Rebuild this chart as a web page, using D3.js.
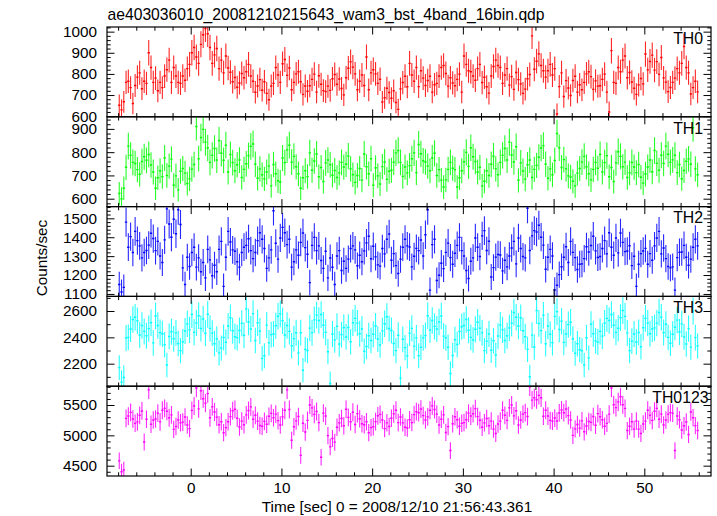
<!DOCTYPE html>
<html><head><meta charset="utf-8">
<script src="https://cdn.jsdelivr.net/npm/d3@7"></script>
<style>
body{margin:0;background:#fff}
svg{display:block}
text{font-family:"Liberation Sans",Arial,Helvetica,sans-serif;fill:#000}
</style>
</head><body>
<svg id="c" width="717" height="516"></svg>
<script>
// ---------------- data ----------------
const titleText = "ae403036010_20081210215643_wam3_bst_4band_16bin.qdp";
const xLabelText = "Time [sec] 0 = 2008/12/10 21:56:43.361";
const yLabelText = "Counts/sec";
const bandNames = ["TH0", "TH1", "TH2", "TH3", "TH0123"];
const binWidth = 0.25;        // seconds per bin
const firstBinStart = -8.0;   // left edge of first bin (s)
const xTickLabels = [0, 10, 20, 30, 40, 50];

const TH0 = [
652,630,668,760, 765,735,660,745, 785,805,730,765, 755,900,830,760,
780,720,760,735, 790,820,865,760, 830,790,760,755, 790,770,825,845,
900,925,880,850, 940,985,1015,990, 925,850,890,920, 825,865,805,885,
828,808,763,783, 737,757,802,782, 810,845,790,765, 713,743,773,723,
763,708,678,743, 755,830,795,760, 848,868,793,828, 725,760,800,810,
763,703,743,718, 744,774,799,714, 791,751,721,716, 742,722,777,797,
751,776,731,701, 782,827,857,832, 800,725,765,795, 745,880,725,805,
820,800,755,775, 667,687,732,712, 685,720,665,632, 729,759,789,739,
850,795,765,830, 740,815,780,745, 769,789,714,749, 755,790,830,840,
802,742,782,757, 744,774,799,714, 885,845,815,810, 790,770,825,845,
759,784,739,709, 790,835,865,840, 830,755,795,825, 747,787,727,807,
773,753,708,728, 777,797,980,822, 860,895,840,815, 785,815,845,795,
825,610,740,805, 693,768,733,698, 769,789,714,749, 725,760,800,810,
787,727,767,742, 744,774,799,714, 620,910,760,755, 830,810,865,885,
782,807,762,732, 703,748,778,753, 894,819,859,889, 818,858,798,878,
781,761,716,736, 760,780,825,805, 850,930,830,805, 705,735,765,715
];
const TH1 = [
622,600,645,735, 826,786,756,751, 725,705,760,780, 765,790,745,715,
645,690,720,695, 775,700,740,770, 658,698,638,718, 730,710,665,685,
727,747,910,772, 863,898,843,818, 756,786,816,766, 850,795,765,830,
715,790,755,720, 746,766,691,726, 750,785,825,835, 748,688,728,703,
685,715,740,655, 747,707,677,672, 775,755,810,830, 757,782,737,707,
645,690,720,695, 797,722,762,792, 694,734,674,754, 766,746,701,721,
691,711,756,736, 748,783,728,703, 670,700,730,680, 792,737,707,772,
658,733,698,663, 738,758,683,718, 722,757,797,807, 756,696,736,711,
742,772,797,712, 833,793,763,758, 740,720,775,795, 700,725,680,650,
681,726,756,731, 725,650,690,720, 759,799,739,819, 780,760,715,735,
655,675,720,700, 748,783,728,703, 756,786,816,766, 843,788,758,823,
679,754,719,684, 746,766,691,726, 743,778,818,828, 748,688,728,703,
764,880,819,734, 768,728,698,693, 675,655,710,730, 757,782,737,707,
681,726,756,731, 790,715,755,785, 694,734,674,754, 802,782,737,757,
691,711,756,736, 712,747,692,667, 706,736,766,716, 807,752,722,787,
751,826,791,756, 767,787,712,747, 686,721,761,771, 748,905,728,703
];
const TH2 = [
1150,1110,1135,1480, 1347,1403,1319,1431, 1382,1354,1291,1319, 1330,1358,1421,1393,
1329,1378,1301,1266, 1386,1550,1470,1400, 1495,1418,1545,1467, 1238,1150,1294,1245,
1319,1347,1242,1291, 1217,1266,1185,1336, 1280,1196,1252,1217, 1336,1378,1140,1294,
1431,1375,1333,1326, 1270,1242,1319,1347, 1357,1392,1329,1287, 1319,1382,1424,1389,
1340,1235,1291,1333, 1540,1368,1284,1396, 1452,1424,1361,1389, 1242,1270,1333,1305,
1373,1422,1345,1310, 1160,1357,1399,1329, 1354,1277,1235,1326, 1185,1290,1241,1150,
1301,1329,1224,1273, 1235,1284,1340,1354, 1333,1249,1305,1270, 1328,1370,1405,1286,
1352,1296,1254,1247, 1340,1312,1389,1417, 1278,1313,1250,1208, 1284,1347,1389,1354,
1348,1243,1299,1341, 1329,1385,1301,1413, 1545,1120,1361,1389, 1171,1199,1262,1234,
1320,1369,1292,1257, 1315,1357,1399,1329, 1301,1224,1182,1273, 1291,1396,1347,1298,
1407,1435,1330,1379, 1190,1239,1295,1309, 1306,1222,1278,1243, 1301,1343,1378,1259,
1396,1340,1298,1291, 1553,1330,1407,1435, 1428,1463,1400,1358, 1231,1294,1336,1301,
1121,1146,1202,1244, 1294,1350,1266,1378, 1320,1292,1229,1257, 1259,1287,1350,1322,
1356,1405,1328,1293, 1298,1340,1382,1312, 1424,1347,1305,1396, 1317,1422,1373,1324,
1327,1355,1250,1299, 1140,1257,1313,1327, 1341,1257,1313,1278, 1354,1396,1431,1312,
1343,1287,1245,1238, 1243,1120,1292,1320, 1322,1357,1294,1252, 1284,1347,1389,1354
];
const TH3 = [
2170,2060,2095,2395, 2400,2463,2535,2553, 2526,2418,2490,2445, 2412,2466,2511,2358,
2562,2490,2436,2427, 2344,2190,2407,2443, 2389,2434,2353,2299, 2367,2448,2502,2457,
2573,2438,2510,2564, 2467,2539,2431,2575, 2468,2432,2351,2387, 2282,2318,2399,2363,
2486,2549,2450,2405, 2398,2452,2506,2416, 2616,2517,2463,2580, 2376,2511,2448,2240,
2260,2493,2358,2421, 2425,2488,2560,2578, 2526,2418,2490,2445, 2336,2390,2435,2282,
2435,2150,2309,2300, 2470,2434,2533,2569, 2528,2573,2492,2438, 2291,2050,2426,2381,
2484,2349,2421,2475, 2403,2475,2367,2511, 2544,2508,2427,2463, 2295,2331,2412,2376,
2423,2486,2387,2342, 2449,2503,2557,2467, 2452,2353,2299,2416, 2090,2385,2322,2259,
2432,2468,2333,2396, 2261,2324,2396,2414, 2564,2456,2528,2483, 2463,2517,2562,2409,
2397,2325,2126,2262, 2382,2346,2445,2481, 2490,2535,2454,2400, 2380,2461,2515,2470,
2434,2299,2371,2425, 2302,2374,2266,2410, 2493,2457,2376,2412, 2472,2508,2589,2553,
2486,2549,2450,2405, 2309,2101,2417,2327, 2604,2505,2451,2568, 2351,2486,2423,2360,
2559,2595,2460,2523, 2362,2425,2497,2515, 2387,2279,2351,2306, 2298,2190,2397,2244,
2499,2427,2373,2364, 2445,2409,2508,2544, 2528,2573,2492,2438, 2469,2550,2604,2559,
2434,2299,2371,2425, 2365,2437,2329,2473, 2544,2508,2427,2463, 2472,2508,2589,2553,
2436,2499,2400,2355, 2423,2477,2531,2441, 2502,2403,2349,2466, 2326,2600,2398,2335
];
const TH0123 = [
4580,4400,4430,5280, 5318,5378,5270,5198, 5222,5330,5402,4890, 5266,5750,5182,5254,
5270,5366,5222,5414, 5445,5397,5289,5337, 5098,5146,5254,5206, 5218,5302,5170,5110,
5412,5484,5780,5436, 5735,5603,5531,5687, 5289,5469,5385,5301, 5175,5223,5043,5127,
5225,5309,5405,5429, 5282,5138,5234,5174, 5337,5409,5469,5265, 5330,5234,5162,5150,
5230,5182,5314,5362, 5290,5350,5242,5170, 5305,5413,5750,5425, 4920,5142,5238,5310,
4670,5199,5055,5247, 5501,5453,5345,5393, 5210,4640,5366,5318, 4996,4810,4948,4888,
5134,5206,5278,5158, 5429,5297,5225,5381, 5178,5358,5274,5190, 5175,5223,5043,5127,
5142,5226,5322,5346, 5254,5110,5206,5146, 5282,5354,5414,5210, 5302,5206,5134,5122,
5258,5210,5342,5390, 5373,5433,5325,5253, 5305,5413,5485,5425, 5350,5170,5266,5338,
5047,5143,4750,5191, 5306,5258,5150,5198, 5210,5258,5366,5318, 5357,5441,5309,5249,
5134,5206,5278,5158, 5235,5103,5031,5187, 5234,5414,5330,5246, 5453,5501,5321,5405,
5170,5254,5350,5374, 5310,5800,5580,5620, 5587,5659,5619,5315, 5414,5318,5246,5234,
5285,5237,5369,5417, 5373,5433,5325,5253, 4999,5107,5179,5119, 5239,5059,5155,5227,
5214,5310,5166,5358, 5306,5258,5150,5198, 5349,5780,5505,5457, 5552,5636,5504,5444,
5079,5151,5223,5103, 5235,5103,5031,5187, 5234,5414,5330,5246, 5397,5445,5265,5349,
5170,5254,5350,5374, 5366,4750,5318,5258, 5087,5159,5219,5015, 5386,5290,5160,5080
];

const yMajorTicks = [
  [600, 700, 800, 900, 1000],
  [600, 700, 800, 900],
  [1100, 1200, 1300, 1400, 1500],
  [2200, 2400, 2600],
  [4500, 5000, 5500]
];
const yMinorSteps = [20, 20, 20, 100, 100];
const yDomains = [[597, 1022], [566, 952], [1087, 1562], [2029, 2711], [4330, 5810]];
const xDomain = [-9.226, 57.35];
const xMinorStep = 2;

// ---------------- layout / style ----------------
const seriesValues = [TH0, TH1, TH2, TH3, TH0123];
const colors = ["#ff0000", "#00ff00", "#0000ff", "#00ffff", "#ff00ff"];
const L = 107, R = 711, TOP = 27, BOTTOM = 476;
const ph = (BOTTOM - TOP) / 5;
const FS = 15.3;
const MAJ = 7.5, MIN = 3.7;

const svg = d3.select("#c");
svg.append("rect").attr("width", 717).attr("height", 516).attr("fill", "#fff");

const x = d3.scaleLinear().domain(xDomain).range([L, R]);

svg.append("text").attr("x", 107.5).attr("y", 19.5)
  .attr("font-size", 15.7).text(titleText);

function styleAxis(sel, keepText) {
  sel.select(".domain").remove();
  sel.selectAll(".tick line").attr("stroke", "#000").attr("stroke-width", 1);
  if (!keepText) sel.selectAll("text").remove();
  else sel.selectAll("text").attr("font-size", FS)
      .attr("font-family", '"Liberation Sans",Arial,Helvetica,sans-serif').attr("fill", "#000");
}

const defs = svg.append("defs");

seriesValues.forEach((vals, p) => {
  const top = TOP + p * ph, bot = top + ph;
  const y = d3.scaleLinear().domain(yDomains[p]).range([bot, top]);
  const g = svg.append("g");

  defs.append("clipPath").attr("id", "clip" + p)
    .append("rect").attr("x", L).attr("y", top).attr("width", R - L).attr("height", ph);

  // Poisson errors of the binned rate
  const data = vals.map((v, i) => {
    const t = firstBinStart + binWidth * (i + 0.5);
    return { t, v, e: Math.sqrt(v / binWidth) };
  });

  const marks = g.append("g").attr("clip-path", "url(#clip" + p + ")")
    .attr("stroke", colors[p]).attr("stroke-width", 1.1).attr("fill", "none");
  marks.selectAll("line.v").data(data).join("line").attr("class", "v")
    .attr("stroke-opacity", 0.85)
    .attr("x1", d => x(d.t)).attr("x2", d => x(d.t))
    .attr("y1", d => y(d.v - d.e)).attr("y2", d => y(d.v + d.e));
  marks.selectAll("line.h").data(data).join("line").attr("class", "h")
    .attr("stroke-width", 1.4)
    .attr("x1", d => x(d.t - binWidth / 2)).attr("x2", d => x(d.t + binWidth / 2))
    .attr("y1", d => y(d.v)).attr("y2", d => y(d.v));

  // x ticks (bottom & top of each panel, pointing inward)
  const xMaj = [0, 10, 20, 30, 40, 50];
  const xMin = d3.range(-8, 58, xMinorStep).filter(t => t % 10 !== 0);
  const isLast = p === 4;
  g.append("g").attr("transform", `translate(0,${bot})`)
    .call(d3.axisBottom(x).tickValues(xMin).tickSize(-MIN).tickFormat(""))
    .call(s => styleAxis(s, false));
  g.append("g").attr("transform", `translate(0,${bot})`)
    .call(d3.axisBottom(x).tickValues(isLast ? xTickLabels : xMaj).tickSize(-MAJ).tickPadding(6.5).tickFormat(d3.format("d")))
    .call(s => styleAxis(s, isLast));
  g.append("g").attr("transform", `translate(0,${top})`)
    .call(d3.axisTop(x).tickValues(xMin).tickSize(-MIN).tickFormat(""))
    .call(s => styleAxis(s, false));
  g.append("g").attr("transform", `translate(0,${top})`)
    .call(d3.axisTop(x).tickValues(xMaj).tickSize(-MAJ).tickFormat(""))
    .call(s => styleAxis(s, false));

  // y ticks
  const st = yMinorSteps[p];
  const yMin = d3.range(Math.ceil(yDomains[p][0] / st) * st, yDomains[p][1], st)
    .filter(v => !yMajorTicks[p].includes(v));
  g.append("g").attr("transform", `translate(${L},0)`)
    .call(d3.axisLeft(y).tickValues(yMin).tickSize(-MIN).tickFormat(""))
    .call(s => styleAxis(s, false));
  g.append("g").attr("transform", `translate(${L},0)`)
    .call(d3.axisLeft(y).tickValues(yMajorTicks[p]).tickSize(-MAJ).tickPadding(10).tickFormat(d3.format("d")))
    .call(s => styleAxis(s, true));
  g.append("g").attr("transform", `translate(${R},0)`)
    .call(d3.axisRight(y).tickValues(yMin).tickSize(-MIN).tickFormat(""))
    .call(s => styleAxis(s, false));
  g.append("g").attr("transform", `translate(${R},0)`)
    .call(d3.axisRight(y).tickValues(yMajorTicks[p]).tickSize(-MAJ).tickFormat(""))
    .call(s => styleAxis(s, false));

  // frame
  g.append("rect").attr("x", L).attr("y", top).attr("width", R - L).attr("height", ph)
    .attr("fill", "none").attr("stroke", "#000").attr("stroke-width", 1.2);

  // band label
  g.append("text").attr("x", p === 4 ? 708.5 : 703).attr("y", top + 16.8)
    .attr("text-anchor", "end").attr("font-size", FS + 0.5).text(bandNames[p]);
});

svg.append("text").attr("x", 397).attr("y", 512).attr("text-anchor", "middle")
  .attr("font-size", FS).text(xLabelText);
svg.append("text").attr("transform", "translate(46.5,258) rotate(-90)")
  .attr("text-anchor", "middle").attr("font-size", FS).text(yLabelText);
</script>
</body></html>
